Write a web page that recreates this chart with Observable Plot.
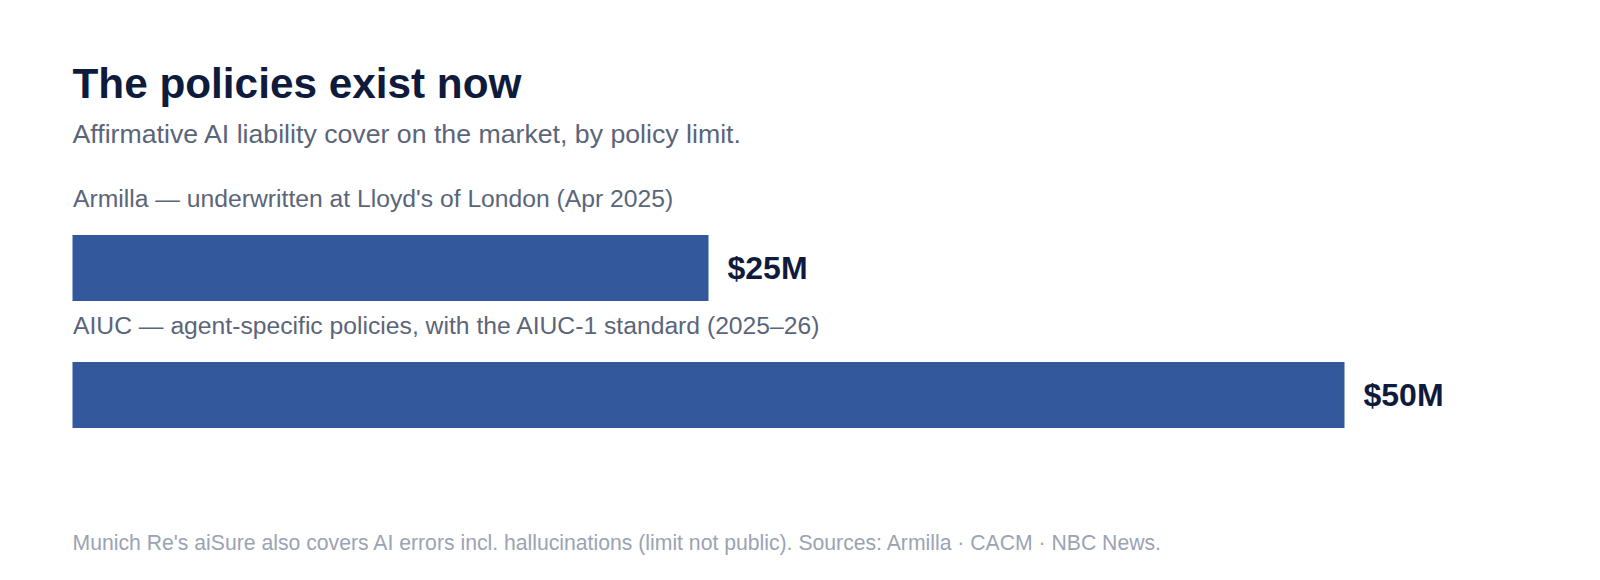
<!DOCTYPE html>
<html>
<head>
<meta charset="utf-8">
<script src="https://cdn.jsdelivr.net/npm/d3@7"></script>
<script src="https://cdn.jsdelivr.net/npm/@observablehq/plot@0.6"></script>
<style>
  html, body { margin: 0; padding: 0; background: #ffffff; }
  body { width: 1600px; height: 580px; position: relative; overflow: hidden;
         font-family: "Liberation Sans", Arial, Helvetica, sans-serif; }
  .t { position: absolute; left: 72.5px; line-height: 1; white-space: nowrap; }
  #title { top: 63.2px; font-size: 42.3px; font-weight: 700; color: #0f1b3d; }
  #subtitle { top: 121px; font-size: 26.7px; color: #5b6579; }
  #footer { top: 532px; font-size: 21.2px; color: #9aa3b4; }
  #chart { position: absolute; left: 0; top: 160px; }
</style>
</head>
<body>
<div id="title" class="t">The policies exist now</div>
<div id="subtitle" class="t">Affirmative AI liability cover on the market, by policy limit.</div>
<div id="chart"></div>
<div id="footer" class="t">Munich Re's aiSure also covers AI errors incl. hallucinations (limit not public). Sources: Armilla · CACM · NBC News.</div>
<script>
const names = ["Armilla", "AIUC"];
const labels = [
  "Armilla — underwritten at Lloyd's of London (Apr 2025)",
  "AIUC — agent-specific policies, with the AIUC-1 standard (2025–26)"
];
const limits = [25, 50];
const valueLabels = ["$25M", "$50M"];

const data = names.map((n, i) => ({name: n, label: labels[i], value: limits[i], valueLabel: valueLabels[i]}));

const chart = Plot.plot({
  width: 1600,
  height: 330,
  margin: 0,
  style: {fontFamily: '"Liberation Sans", Arial, Helvetica, sans-serif', background: "transparent"},
  x: {domain: [0, 50], range: [72.5, 1344.5], axis: null},
  y: {domain: names, range: [74.7, 268.6], paddingInner: 0.48, paddingOuter: 0, axis: null},
  marks: [
    Plot.barX(data, {x: "value", y: "name", fill: "#33589c"}),
    Plot.text(data, {x: () => 0, y: "name", text: "label", textAnchor: "start", lineAnchor: "bottom",
      dy: -61.2, fontSize: 24.7, fill: "#5b6579"}),
    Plot.text(data, {x: "value", y: "name", text: "valueLabel", textAnchor: "start", lineAnchor: "middle",
      dx: 18.5, fontSize: 32, fontWeight: 700, fill: "#0f1b3d"})
  ]
});
document.getElementById("chart").appendChild(chart);
</script>
</body>
</html>
